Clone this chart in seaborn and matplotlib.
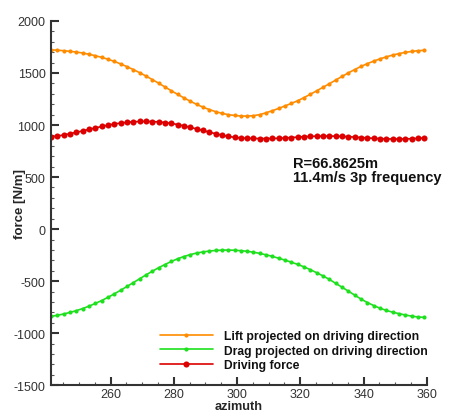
import numpy as np
import pandas as pd
import matplotlib
matplotlib.use("Agg")
import matplotlib.pyplot as plt
import seaborn as sns

# Blade section loads over one 3p cycle
azimuth = [241.2, 243.2, 245.2, 247.2, 249.2, 251.2, 253.2, 255.2, 257.2, 259.2,
           261.2, 263.2, 265.2, 267.2, 269.2, 271.2, 273.2, 275.2, 277.2, 279.2,
           281.2, 283.2, 285.2, 287.2, 289.2, 291.2, 293.2, 295.2, 297.2, 299.2,
           301.2, 303.2, 305.2, 307.2, 309.2, 311.2, 313.2, 315.2, 317.2, 319.2,
           321.2, 323.2, 325.2, 327.2, 329.2, 331.2, 333.2, 335.2, 337.2, 339.2,
           341.2, 343.2, 345.2, 347.2, 349.2, 351.2, 353.2, 355.2, 357.2, 359.2]

lift_proj = [1722, 1719, 1714, 1708, 1701, 1692, 1680, 1666, 1650, 1632,
             1611, 1587, 1561, 1533, 1503, 1471, 1437, 1402, 1366, 1330,
             1295, 1261, 1229, 1199, 1172, 1149, 1129, 1112, 1100, 1092,
             1087, 1086, 1090, 1100, 1118, 1138, 1160, 1184, 1208, 1234,
             1264, 1296, 1329, 1363, 1397, 1432, 1467, 1501, 1533, 1563,
             1590, 1614, 1636, 1655, 1672, 1686, 1698, 1707, 1714, 1718]

drag_proj = [-838, -828, -815, -800, -783, -763, -740, -714, -686, -655,
             -622, -587, -551, -514, -477, -440, -405, -371, -340, -311,
             -285, -263, -245, -230, -219, -211, -205, -202, -201, -203,
             -207, -213, -222, -233, -247, -262, -280, -298, -318, -339,
             -363, -390, -419, -450, -483, -521, -558, -596, -634, -672,
             -705, -734, -760, -781, -798, -812, -825, -836, -844, -848]

driving = [885, 894, 905, 917, 930, 944, 958, 972, 986, 999,
           1010, 1019, 1026, 1031, 1034, 1035, 1033, 1030, 1024, 1016,
           1005, 992, 978, 963, 948, 932, 917, 903, 891, 882,
           876, 873, 871, 870, 870, 871, 873, 876, 880, 884,
           888, 891, 893, 894, 894, 893, 891, 888, 884, 880,
           876, 872, 869, 867, 866, 866, 867, 869, 872, 876]

series_names = ["Lift projected on driving direction",
                "Drag projected on driving direction",
                "Driving force"]
series_colors = ["#ff8c00", "#1ee01e", "#dd0000"]
marker_sizes = [3.0, 3.0, 4.4]

sns.set_style("ticks")
plt.rcParams["font.family"] = ["Liberation Sans", "DejaVu Sans"]
plt.rcParams["axes.unicode_minus"] = False

fig = plt.figure(figsize=(4.56, 4.14), dpi=100)
ax = fig.add_axes([0.112, 0.067, 0.824, 0.880])

for name, vals, col, ms in zip(series_names, [lift_proj, drag_proj, driving],
                               series_colors, marker_sizes):
    df = pd.DataFrame({"azimuth": azimuth, "force": vals})
    sns.lineplot(data=df, x="azimuth", y="force", ax=ax, color=col,
                 marker="o", markersize=ms, markeredgewidth=0,
                 linewidth=1.2, label=name)

ax.set_xlim(241.2, 360)
ax.set_ylim(-1500, 2000)
ax.set_xticks([260, 280, 300, 320, 340, 360])
ax.set_yticks([-1500, -1000, -500, 0, 500, 1000, 1500, 2000])
ax.xaxis.set_minor_locator(matplotlib.ticker.MultipleLocator(5))
ax.yaxis.set_minor_locator(matplotlib.ticker.MultipleLocator(100))
ax.tick_params(which="major", direction="in", length=6, width=1.5,
               labelsize=9, colors="#333333", labelcolor="#333333", pad=4)
ax.tick_params(axis="x", which="major", pad=2)
ax.tick_params(which="minor", direction="in", length=2.5, width=0.8,
               colors="#555555")
for side in ["left", "bottom"]:
    ax.spines[side].set_linewidth(1.5)
    ax.spines[side].set_color("#333333")
sns.despine(ax=ax)

ax.set_xlabel("azimuth", fontsize=9.2, fontweight="bold")
ax.set_ylabel("force [N/m]", fontsize=9.5, fontweight="bold")
ax.xaxis.set_label_coords(0.5, -0.040)
ax.yaxis.set_label_coords(-0.083, 0.5)
ax.yaxis.label.set_va("center")

ax.text(0.643, 0.553, "R=66.8625m\n11.4m/s 3p frequency", transform=ax.transAxes,
        fontsize=10.5, fontweight="bold", ha="left", va="bottom",
        linespacing=0.95, color="#111111")

leg = ax.legend(loc="upper left", bbox_to_anchor=(0.289, 0.152), frameon=False,
                fontsize=8.7, handlelength=4.4, handletextpad=0.9,
                labelspacing=0.22, borderpad=0, borderaxespad=0)
for t in leg.get_texts():
    t.set_fontweight("bold")
    t.set_color("#111111")

fig.savefig("out.png", dpi=100)
